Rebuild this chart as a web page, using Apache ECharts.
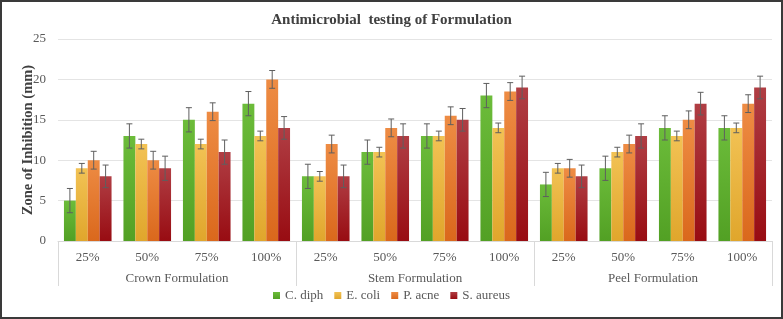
<!DOCTYPE html>
<html>
<head>
<meta charset="utf-8">
<script src="https://cdn.jsdelivr.net/npm/echarts@6/dist/echarts.min.js"></script>
<style>
html,body{margin:0;padding:0;background:#fff;}
#main{width:783px;height:319px;}
</style>
</head>
<body>
<div id="main"></div>
<script>
var levels = ['25%', '50%', '75%', '100%', '25%', '50%', '75%', '100%', '25%', '50%', '75%', '100%'];
var groups = ['Crown Formulation', 'Stem Formulation', 'Peel Formulation'];
var names = ['C. diph', 'E. coli', 'P. acne', 'S. aureus'];

var cDiph = [5, 13, 15, 17, 8, 11, 13, 18, 7, 9, 14, 14];
var eColi = [9, 12, 12, 13, 8, 11, 13, 14, 9, 11, 13, 14];
var pAcne = [10, 10, 16, 20, 12, 14, 15.5, 18.5, 9, 12, 15, 17];
var sAureus = [8, 9, 11, 14, 8, 13, 15, 19, 8, 13, 17, 19];

// error bar half-widths (mm)
var errDiph = [1.5, 1.5, 1.5, 1.5, 1.5, 1.5, 1.5, 1.5, 1.5, 1.5, 1.5, 1.5];
var errColi = [0.6, 0.6, 0.6, 0.6, 0.6, 0.6, 0.6, 0.6, 0.6, 0.6, 0.6, 0.6];
var errAcne = [1.1, 1.1, 1.1, 1.1, 1.1, 1.1, 1.1, 1.1, 1.1, 1.1, 1.1, 1.1];
var errAureus = [1.4, 1.5, 1.5, 1.4, 1.4, 1.5, 1.4, 1.4, 1.4, 1.5, 1.4, 1.4];

var values = [cDiph, eColi, pAcne, sAureus];
var errors = [errDiph, errColi, errAcne, errAureus];

var colors = [
    ['#6cbc3a', '#52a024'],
    ['#f2c254', '#e0a62c'],
    ['#ee8c44', '#da681c'],
    ['#b03e44', '#980c12']
];

var myChart = echarts.init(document.getElementById('main'));
var serif = 'Liberation Serif';

function grad(c) {
    return new echarts.graphic.LinearGradient(0, 0, 0, 1, [
        {offset: 0, color: c[0]},
        {offset: 1, color: c[1]}
    ]);
}

var series = [];
names.forEach(function (n, i) {
    series.push({
        name: n,
        type: 'bar',
        barGap: 0,
        barCategoryGap: '20%',
        itemStyle: {color: grad(colors[i])},
        data: values[i]
    });
});

names.forEach(function (n, i) {
    series.push({
        type: 'custom',
        name: n + ' err',
        z: 5,
        renderItem: function (params, api) {
            var idx = api.value(0);
            var lo = api.coord([idx, api.value(1)]);
            var hi = api.coord([idx, api.value(2)]);
            var bw = api.size([1, 0])[0] * 0.8 / 4;
            var x = lo[0] + bw * (i - 1.5);
            var cap = 3;
            var st = {stroke: '#5f5f5f', lineWidth: 1};
            return {
                type: 'group',
                children: [
                    {type: 'line', shape: {x1: x, y1: lo[1], x2: x, y2: hi[1]}, style: st},
                    {type: 'line', shape: {x1: x - cap, y1: lo[1], x2: x + cap, y2: lo[1]}, style: st},
                    {type: 'line', shape: {x1: x - cap, y1: hi[1], x2: x + cap, y2: hi[1]}, style: st}
                ]
            };
        },
        encode: {x: 0, y: [1, 2]},
        data: values[i].map(function (v, k) {
            return [k, v - errors[i][k], v + errors[i][k]];
        })
    });
});

var option = {
    animation: false,
    title: {
        text: 'Antimicrobial  testing of Formulation',
        left: 'center',
        top: 8,
        textStyle: {fontFamily: serif, fontSize: 15, fontWeight: 'bold', color: '#404040'}
    },
    legend: {
        data: names,
        bottom: 12,
        itemWidth: 7,
        itemHeight: 7,
        itemGap: 11,
        icon: 'rect',
        textStyle: {fontFamily: serif, fontSize: 13, color: '#595959'}
    },
    grid: {left: 58, right: 11, top: 39, bottom: 78},
    xAxis: [{
        type: 'category',
        data: levels,
        axisLine: {lineStyle: {color: '#d9d9d9'}},
        axisTick: {show: false},
        axisLabel: {fontFamily: serif, fontSize: 13, color: '#595959', margin: 10}
    }, {
        type: 'category',
        data: groups,
        position: 'bottom',
        axisLine: {show: false},
        axisTick: {show: true, length: 45, lineStyle: {color: '#d9d9d9'}},
        axisLabel: {fontFamily: serif, fontSize: 13, color: '#595959', margin: 31}
    }],
    yAxis: {
        type: 'value',
        min: 0,
        max: 25,
        interval: 5,
        name: 'Zone of Inhibition (mm)',
        nameLocation: 'middle',
        nameGap: 22,
        nameMoveOverlap: false,
        nameTextStyle: {fontFamily: serif, fontSize: 14.5, fontWeight: 'bold', color: '#404040'},
        axisLabel: {fontFamily: serif, fontSize: 13, color: '#595959', margin: 12},
        splitLine: {lineStyle: {color: '#e4e4e4'}}
    },
    graphic: [{
        type: 'rect',
        shape: {x: 1, y: 1, width: 781, height: 317},
        style: {fill: 'none', stroke: '#3a3a3a', lineWidth: 2},
        silent: true
    }],
    series: series
};
myChart.setOption(option);
</script>
</body>
</html>
